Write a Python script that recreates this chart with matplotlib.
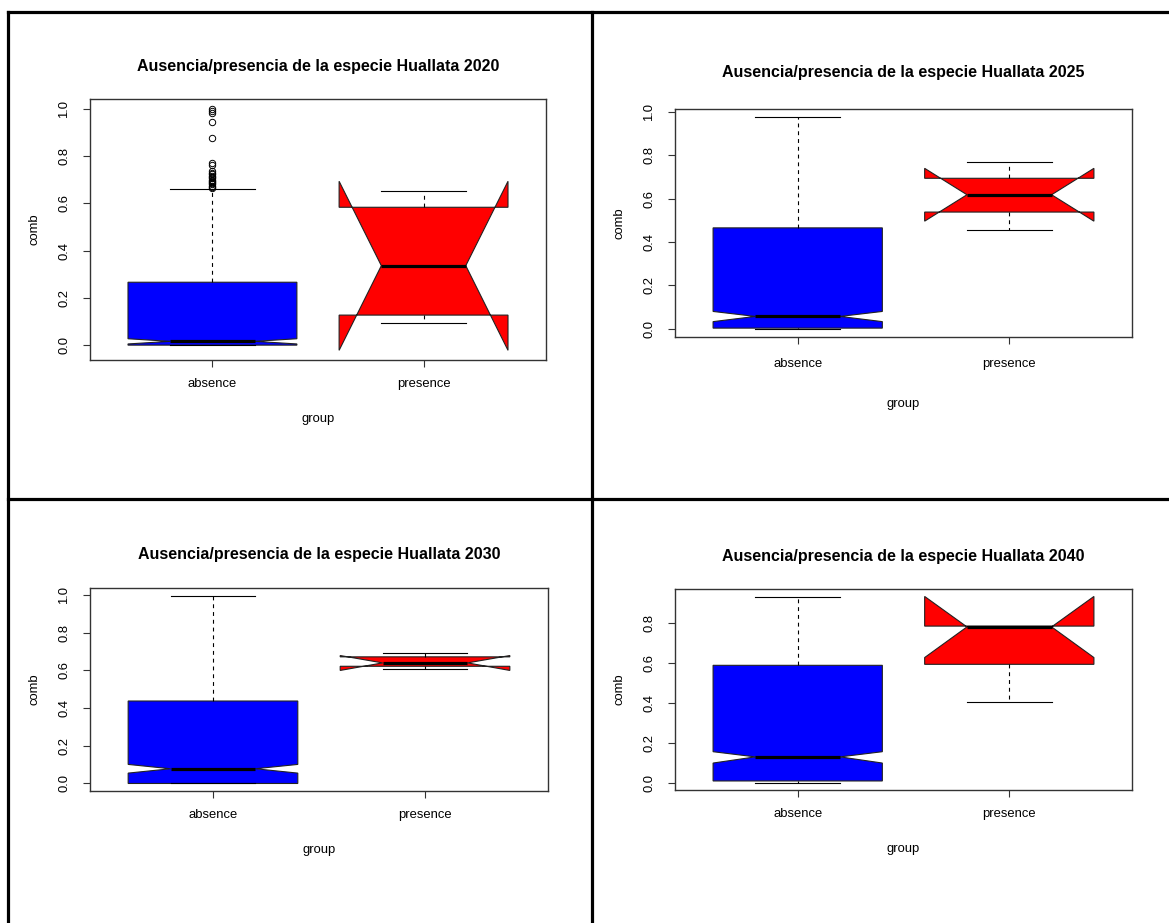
import matplotlib.pyplot as plt
from matplotlib.lines import Line2D
from matplotlib.ticker import MultipleLocator, FormatStrFormatter

plt.rcParams['font.family'] = ['Liberation Sans', 'DejaVu Sans']

W, H = 1169, 923

years = ['2020', '2025', '2030', '2040']
groups = ['absence', 'presence']
box_colors = ['#0000ff', '#ff0000']

# boxplot summaries per year: whiskers, hinges, median and notch limits
absence_whislo = [0.0, 0.0, 0.0, 0.0]
absence_q1 = [0.0, 0.002, 0.0, 0.008]
absence_med = [0.016, 0.056, 0.078, 0.129]
absence_q3 = [0.266, 0.465, 0.437, 0.589]
absence_whishi = [0.661, 0.975, 0.996, 0.932]
absence_cilo = [0.005, 0.032, 0.055, 0.098]
absence_cihi = [0.027, 0.079, 0.101, 0.155]
absence_fliers = [
    [1.0, 0.99, 0.98, 0.945, 0.878, 0.770, 0.762, 0.735, 0.728, 0.722, 0.716,
     0.710, 0.705, 0.700, 0.695, 0.690, 0.685, 0.680, 0.675, 0.670, 0.665],
    [], [], [],
]

presence_whislo = [0.093, 0.457, 0.607, 0.406]
presence_q1 = [0.127, 0.538, 0.621, 0.594]
presence_med = [0.336, 0.618, 0.639, 0.782]
presence_q3 = [0.583, 0.694, 0.671, 0.786]
presence_whishi = [0.650, 0.771, 0.693, 0.786]
presence_cilo = [-0.022, 0.496, 0.599, 0.628]
presence_cihi = [0.693, 0.740, 0.678, 0.935]
presence_fliers = [[], [], [], []]

# panel frames in pixels: left, top, right, bottom
panels = [(90, 99, 546, 360), (675, 109, 1132, 337),
          (90, 588, 548, 791), (675, 589, 1132, 790)]
xtick_pad = [8.3, 10.2, 8.0, 7.9]
xlabel_off = [59, 67, 59, 59]
title_off = [33, 37, 33, 33]

fig = plt.figure(figsize=(W / 100, H / 100), dpi=100)

for i, year in enumerate(years):
    l, t, r, b = panels[i]
    ax = fig.add_axes([l / W, 1 - b / H, (r - l) / W, (b - t) / H])

    stats = [
        dict(label=groups[0], whislo=absence_whislo[i], q1=absence_q1[i],
             med=absence_med[i], q3=absence_q3[i], whishi=absence_whishi[i],
             cilo=absence_cilo[i], cihi=absence_cihi[i], fliers=absence_fliers[i]),
        dict(label=groups[1], whislo=presence_whislo[i], q1=presence_q1[i],
             med=presence_med[i], q3=presence_q3[i], whishi=presence_whishi[i],
             cilo=presence_cilo[i], cihi=presence_cihi[i], fliers=presence_fliers[i]),
    ]
    bp = ax.bxp(stats, positions=[1, 2], widths=0.8, shownotches=True,
                patch_artist=True,
                boxprops=dict(edgecolor='#222222', linewidth=0.8),
                medianprops=dict(color='black', linewidth=2.3),
                whiskerprops=dict(color='black', linewidth=0.8, linestyle=(0, (3.5, 3.5))),
                capprops=dict(color='black', linewidth=0.8),
                flierprops=dict(marker='o', markerfacecolor='none',
                                markeredgecolor='black', markersize=4.6,
                                markeredgewidth=0.7))
    for patch, c in zip(bp['boxes'], box_colors):
        patch.set_facecolor(c)

    # y range like R: all values plus 4% either side
    vals = []
    for s in stats:
        vals += [s['whislo'], s['whishi'], s['cilo'], s['cihi']] + list(s['fliers'])
    lo, hi = min(vals), max(vals)
    pad = 0.04 * (hi - lo)
    ax.set_ylim(lo - pad, hi + pad)
    ax.set_xlim(0.42, 2.58)

    ax.yaxis.set_major_locator(MultipleLocator(0.2))
    ax.yaxis.set_major_formatter(FormatStrFormatter('%.1f'))
    ax.tick_params(direction='out', length=5, width=0.8, color='#333333',
                   labelsize=9.4, labelcolor='black')
    ax.tick_params(axis='x', pad=xtick_pad[i])
    ax.tick_params(axis='y', pad=13.5, labelrotation=90)
    for lab in ax.get_yticklabels():
        lab.set_horizontalalignment('center')
        lab.set_verticalalignment('center')
    for sp in ax.spines.values():
        sp.set_color('#333333')
        sp.set_linewidth(1.0)

    fig.text((l + r) / 2 / W, 1 - (t - title_off[i]) / H,
             f'Ausencia/presencia de la especie Huallata {year}',
             ha='center', va='center', fontsize=11.5, fontweight='bold')
    fig.text((l - 55.5) / W, 1 - (t + b) / 2 / H, 'comb', rotation=90,
             ha='center', va='center', fontsize=9.4)
    fig.text((l + r) / 2 / W, 1 - (b + xlabel_off[i]) / H, 'group',
             ha='center', va='center', fontsize=9.4)

# panel borders
for x0, y0, x1, y1 in [(8, 12, 1169, 12), (8, 12, 8, 923),
                       (592, 12, 592, 923), (8, 499, 1169, 499)]:
    fig.add_artist(Line2D([x0 / W, x1 / W], [1 - y0 / H, 1 - y1 / H],
                          transform=fig.transFigure, color='black', linewidth=2.3))

fig.savefig('out.png', dpi=100)
